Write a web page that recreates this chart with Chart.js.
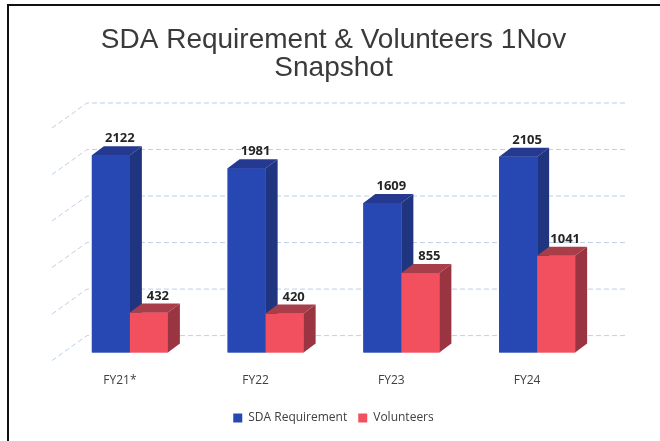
<!DOCTYPE html>
<html>
<head>
<meta charset="utf-8">
<script src="https://cdn.jsdelivr.net/npm/chart.js@4.4.1/dist/chart.umd.min.js"></script>
<style>
  body { margin: 0; background: #fff; }
  #wrap { position: relative; width: 660px; height: 441px; overflow: hidden; }
  #frame { position: absolute; left: 7px; top: 4px; width: 680px; height: 480px;
           border-left: 2px solid #111; border-top: 2px solid #111; pointer-events: none; }
</style>
</head>
<body>
<div id="wrap">
  <canvas id="chart" width="660" height="441"></canvas>
  <div id="frame"></div>
</div>
<script>
const categories = ['FY21*', 'FY22', 'FY23', 'FY24'];
const sdaRequirement = [2122, 1981, 1609, 2105];
const volunteers = [432, 420, 855, 1041];
const gridValues = [0, 500, 1000, 1500, 2000, 2500];

// bar depth and back wall offset (pseudo 3D)
const BAR_DX = 12, BAR_DY = -9;
const WALL_DY = -17;

const faces = [
  { front: '#2747b3', side: '#1f3580', top: '#24398f' },
  { front: '#f2505f', side: '#9a3440', top: '#a83e49' }
];

const wallPlugin = {
  id: 'wall',
  beforeDatasetsDraw(chart) {
    const { ctx, chartArea, scales: { y } } = chart;
    ctx.save();
    ctx.strokeStyle = '#bcd0e6';
    ctx.lineWidth = 1;
    ctx.setLineDash([5, 3]);
    gridValues.forEach(v => {
      const py = y.getPixelForValue(v);
      ctx.beginPath();
      ctx.moveTo(chartArea.left - 10, py + 8);
      ctx.lineTo(chartArea.left + 25, py + WALL_DY);
      ctx.lineTo(chartArea.right + 23, py + WALL_DY);
      ctx.stroke();
    });
    ctx.restore();
  }
};

// redraw every bar as a box: blue first, red over it
const bar3dPlugin = {
  id: 'bar3d',
  afterDatasetsDraw(chart) {
    const { ctx } = chart;
    ctx.save();
    chart.data.datasets.forEach((ds, d) => {
      const f = faces[d];
      chart.getDatasetMeta(d).data.forEach((bar, i) => {
        const { x, y, base, width } = bar.getProps(['x', 'y', 'base', 'width'], true);
        const l = x - width / 2, r = x + width / 2;
        ctx.fillStyle = f.front;
        ctx.fillRect(l, y, width, base - y);
        ctx.fillStyle = f.side;
        ctx.beginPath();
        ctx.moveTo(r, y);
        ctx.lineTo(r + BAR_DX, y + BAR_DY);
        ctx.lineTo(r + BAR_DX, base + BAR_DY);
        ctx.lineTo(r, base);
        ctx.closePath();
        ctx.fill();
        ctx.fillStyle = f.top;
        ctx.beginPath();
        ctx.moveTo(l, y);
        ctx.lineTo(l + BAR_DX, y + BAR_DY);
        ctx.lineTo(r + BAR_DX, y + BAR_DY);
        ctx.lineTo(r, y);
        ctx.closePath();
        ctx.fill();
        ctx.fillStyle = '#262626';
        ctx.font = 'bold 13px "Open Sans"';
        ctx.textAlign = 'center';
        ctx.textBaseline = 'bottom';
        ctx.fillText(String(ds.data[i]), x + 9, y + BAR_DY - 1);
      });
    });
    ctx.restore();
  }
};

new Chart(document.getElementById('chart'), {
  type: 'bar',
  data: {
    labels: categories,
    datasets: [
      { label: 'SDA Requirement', data: sdaRequirement, backgroundColor: faces[0].front },
      { label: 'Volunteers', data: volunteers, backgroundColor: faces[1].front }
    ]
  },
  options: {
    responsive: false,
    animation: false,
    layout: { padding: { left: 62, right: 55, bottom: 7 } },
    datasets: { bar: { categoryPercentage: 0.56, barPercentage: 1.0 } },
    scales: {
      x: {
        grid: { display: false },
        border: { display: false },
        ticks: { color: '#404040', font: { family: 'Open Sans', size: 12 }, padding: 13, labelOffset: -10 }
      },
      y: {
        display: false,
        min: 0,
        max: 2500
      }
    },
    plugins: {
      title: {
        display: true,
        text: ['SDA Requirement & Volunteers 1Nov', 'Snapshot'],
        color: '#3a3a3a',
        font: { family: 'Liberation Sans', size: 28, weight: 'normal', lineHeight: 1.0 },
        padding: { top: 26, bottom: 38 }
      },
      legend: {
        position: 'bottom',
        labels: {
          color: '#404040',
          font: { family: 'Open Sans', size: 12 },
          boxWidth: 9, boxHeight: 9,
          padding: 11
        }
      },
      tooltip: { enabled: false }
    }
  },
  plugins: [wallPlugin, bar3dPlugin]
});
</script>
</body>
</html>
